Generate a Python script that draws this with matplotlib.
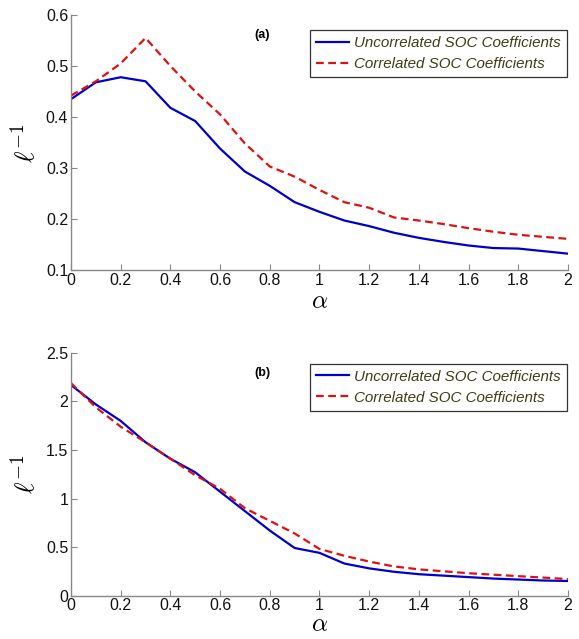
import matplotlib
matplotlib.use("Agg")
import matplotlib.pyplot as plt

# alpha values (common to both panels)
alpha = [0.0, 0.1, 0.2, 0.3, 0.4, 0.5, 0.6, 0.7, 0.8, 0.9, 1.0,
         1.1, 1.2, 1.3, 1.4, 1.5, 1.6, 1.7, 1.8, 1.9, 2.0]

# panel (a)
a_uncorr = [0.435, 0.468, 0.478, 0.470, 0.418, 0.392, 0.338, 0.293, 0.265, 0.233, 0.214,
            0.197, 0.186, 0.173, 0.163, 0.155, 0.148, 0.143, 0.142, 0.137, 0.132]
a_corr = [0.442, 0.470, 0.505, 0.555, 0.500, 0.450, 0.405, 0.348, 0.303, 0.283, 0.257,
          0.233, 0.222, 0.203, 0.197, 0.190, 0.182, 0.175, 0.169, 0.165, 0.161]

# panel (b)
b_uncorr = [2.17, 1.97, 1.80, 1.58, 1.41, 1.27, 1.07, 0.87, 0.67, 0.49, 0.44,
            0.33, 0.28, 0.245, 0.22, 0.205, 0.19, 0.175, 0.165, 0.155, 0.15]
b_corr = [2.19, 1.94, 1.74, 1.58, 1.41, 1.24, 1.10, 0.90, 0.77, 0.64, 0.48,
          0.41, 0.35, 0.30, 0.27, 0.25, 0.23, 0.215, 0.20, 0.185, 0.17]

x_ticks = [0, 0.2, 0.4, 0.6, 0.8, 1, 1.2, 1.4, 1.6, 1.8, 2]
x_ticklabels = ["0", "0.2", "0.4", "0.6", "0.8", "1", "1.2", "1.4", "1.6", "1.8", "2"]
a_yticks = [0.1, 0.2, 0.3, 0.4, 0.5, 0.6]
a_yticklabels = ["0.1", "0.2", "0.3", "0.4", "0.5", "0.6"]
b_yticks = [0, 0.5, 1, 1.5, 2, 2.5]
b_yticklabels = ["0", "0.5", "1", "1.5", "2", "2.5"]

plt.rcParams["font.family"] = ["Liberation Sans", "DejaVu Sans"]
plt.rcParams["mathtext.fontset"] = "cm"

fig = plt.figure(figsize=(5.79, 6.39), dpi=100)
ax1 = fig.add_axes([0.1226, 0.5775, 0.8584, 0.399])
ax2 = fig.add_axes([0.1226, 0.068, 0.8584, 0.3796])

panels = [
    (ax1, a_uncorr, a_corr, (0.1, 0.6), a_yticks, a_yticklabels, "(a)", 0.92, 0.941, 1),
    (ax2, b_uncorr, b_corr, (0, 2.5), b_yticks, b_yticklabels, "(b)", 0.916, 0.956, -1),
]

for ax, unc, cor, ylim, yt, ytl, tag, tag_y, leg_y, xpad in panels:
    ax.plot(alpha, unc, color="#0000cc", lw=1.6, label="Uncorrelated SOC Coefficients")
    ax.plot(alpha, cor, color="#dd1111", lw=1.6, ls=(0, (3.5, 2)),
            label="Correlated SOC Coefficients")
    ax.set_xlim(0, 2)
    ax.set_ylim(*ylim)
    ax.set_xticks(x_ticks)
    ax.set_xticklabels(x_ticklabels)
    ax.set_yticks(yt)
    ax.set_yticklabels(ytl)
    for s in ["top", "right"]:
        ax.spines[s].set_visible(False)
    for s in ["left", "bottom"]:
        ax.spines[s].set_color("#888888")
        ax.spines[s].set_linewidth(1.0)
    ax.tick_params(direction="in", length=4, color="#888888", labelsize=11.5,
                   labelcolor="#111111", pad=2)
    ax.set_xlabel(r"$\alpha$", fontsize=18, labelpad=xpad)
    ax.set_ylabel(r"$\ell^{-1}$", fontsize=20)
    ax.yaxis.set_label_coords(-0.06, 0.5)
    ax.text(0.385, tag_y, tag, transform=ax.transAxes, fontsize=9,
            fontweight="bold", ha="center", va="center")
    leg = ax.legend(loc="upper right", bbox_to_anchor=(0.997, leg_y), fancybox=False,
                    framealpha=1, edgecolor="#333333", handlelength=2.2,
                    handletextpad=0.3, borderpad=0.4, labelspacing=0.45,
                    borderaxespad=0, prop={"style": "italic", "size": 10.9})
    leg.get_frame().set_linewidth(0.9)
    for t in leg.get_texts():
        t.set_color("#3d3d14")

fig.savefig("out.png", dpi=100)
